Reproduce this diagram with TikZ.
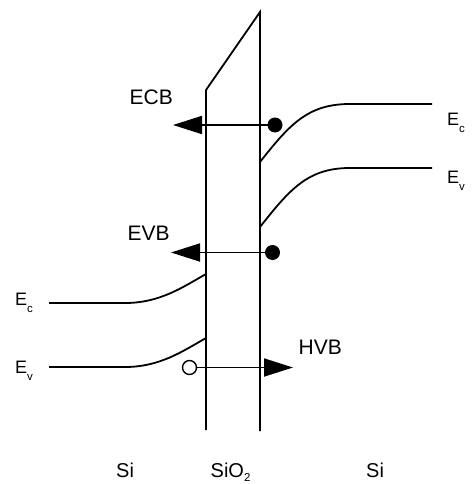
\documentclass[tikz,border=0pt]{standalone}
\usepackage{fontspec}
\setmainfont{Liberation Sans}
\usetikzlibrary{arrows.meta}
\newcommand{\lbsub}[2][-7pt]{{\fontsize{11.5}{11.5}\selectfont\raisebox{#1}{#2}}}
\tikzset{
  ln/.style={line width=1.8pt, line join=miter},
  arr/.style={line width=1.8pt, -{Triangle[length=29pt,width=18pt]}},
  fdot/.style={circle, fill=black, draw=none, minimum size=15pt, inner sep=0pt},
  odot/.style={circle, fill=white, draw=black, line width=1.4pt, minimum size=14pt, inner sep=0pt},
  big/.style={font=\fontsize{21}{24}\selectfont, inner sep=0pt, anchor=base west},
  band/.style={font=\fontsize{18}{20}\selectfont, inner sep=0pt, anchor=base west},
  mat/.style={font=\fontsize{20}{22}\selectfont, inner sep=0pt, anchor=base west}
}
\begin{document}
\begin{tikzpicture}[x=1pt,y=-1pt]
\useasboundingbox (0,0) rectangle (473,484);
% oxide barrier
\coordinate (ltop) at (206,90);
\coordinate (rtop) at (260,12);
\coordinate (lbot) at (206,430);
\coordinate (rbot) at (260,431);
\draw[ln] (lbot) -- (ltop) -- (rtop) -- (rbot);
% right band edges
\coordinate (rc0) at (260,162);
\coordinate (rc1) at (432,104);
\coordinate (rv0) at (260,227);
\coordinate (rv1) at (432,168);
\draw[ln] (rc0) .. controls (290,124) and (308,104) .. (350,104) -- (rc1);
\draw[ln] (rv0) .. controls (290,189) and (308,168) .. (350,168) -- (rv1);
% left band edges
\coordinate (lc0) at (49,303);
\coordinate (lc1) at (206,274);
\coordinate (lv0) at (49,367);
\coordinate (lv1) at (206,338);
\draw[ln] (lc0) -- (125,303) .. controls (160,303) and (183,287) .. (lc1);
\draw[ln] (lv0) -- (125,367) .. controls (160,367) and (183,351) .. (lv1);
% ECB
\node[fdot] (d1) at (275,125) {};
\coordinate (t1) at (173,125);
\draw[arr] (d1.center) -- (t1);
% EVB
\node[fdot] (d2) at (272.5,252.5) {};
\coordinate (t2) at (171,252.5);
\draw[arr] (d2.center) -- (t2);
% HVB
\node[odot] (h1) at (189.5,367.5) {};
\coordinate (t3) at (293,367.5);
\draw[arr] (h1.east) -- (t3);
% labels
\node[big] (lecb) at (129.5,105) {ECB};
\node[big] (levb) at (127.5,240) {EVB};
\node[big] (lhvb) at (298.5,354) {HVB};
\node[band] (rec) at (447,125) {E\lbsub{c}};
\node[band] (rev) at (447,183) {E\lbsub{v}};
\node[band] (lec) at (15,305) {E\lbsub{c}};
\node[band] (lev) at (15,373) {E\lbsub{v}};
\node[mat] (si1) at (116,477) {Si};
\node[mat] (sio) at (210.5,477) {SiO\lbsub[-4.5pt]{2}};
\node[mat] (si2) at (366,477) {Si};
\end{tikzpicture}
\end{document}
